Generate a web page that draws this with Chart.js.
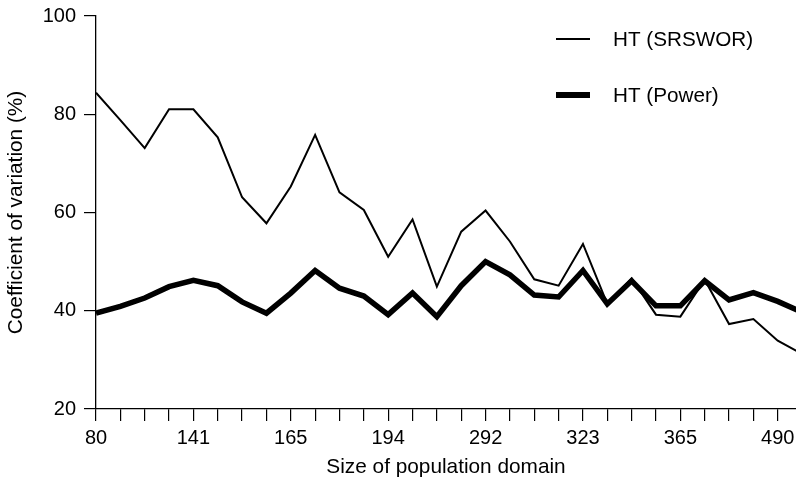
<!DOCTYPE html>
<html>
<head>
<meta charset="utf-8">
<script src="https://cdn.jsdelivr.net/npm/chart.js@4.4.0/dist/chart.umd.min.js"></script>
<style>
html,body{margin:0;padding:0;background:#fff;}
#wrap{width:796px;height:480px;position:relative;}
</style>
</head>
<body>
<div id="wrap"><canvas id="c" width="796" height="480"></canvas></div>
<script>
// ---- data ----
const xTickLabels = ['80','','','','141','','','','165','','','','194','','','','292','','','','323','','','','365','','','','490'];
const seriesNames = ['HT (SRSWOR)', 'HT (Power)'];
const srsworValues = [84.4, 78.8, 73.1, 81.0, 81.0, 75.3, 63.1, 57.8, 65.3, 75.8, 64.1, 60.5, 51.0, 58.6, 44.9,
                      56.1, 60.4, 54.1, 46.4, 45.1, 53.6, 41.4, 46.6, 39.2, 38.8, 46.3, 37.3, 38.3, 33.9, 31.2];
const powerValues  = [39.5, 40.9, 42.6, 44.9, 46.2, 45.1, 41.8, 39.5, 43.6, 48.2, 44.6, 43.0, 39.2, 43.6, 38.8,
                      45.1, 50.0, 47.3, 43.2, 42.8, 48.2, 41.4, 46.1, 41.0, 41.0, 46.1, 42.2, 43.7, 41.9, 39.7];
const yTickValues = [20, 40, 60, 80, 100];
const xTitle = 'Size of population domain';
const yTitle = 'Coefficient of variation (%)';

const FONT = '"Liberation Sans", Arial, Helvetica, sans-serif';
const toPoints = arr => arr.map((v, i) => ({x: i, y: v}));

const legendPlugin = {
  id: 'refLegend',
  afterDraw(chart) {
    const ctx = chart.ctx;
    chart.data.datasets.forEach((ds, i) => {
      const y = 39 + i * 56;
      ctx.save();
      ctx.strokeStyle = ds.borderColor;
      ctx.lineWidth = i === 0 ? 2 : 6;
      ctx.beginPath();
      ctx.moveTo(556, y);
      ctx.lineTo(590, y);
      ctx.stroke();
      ctx.fillStyle = '#000';
      ctx.font = '20.7px ' + FONT;
      ctx.textBaseline = 'middle';
      ctx.textAlign = 'left';
      ctx.fillText(ds.label, 613, y + 1);
      ctx.restore();
    });
  }
};

new Chart(document.getElementById('c'), {
  type: 'line',
  data: {
    datasets: [
      {label: seriesNames[0], data: toPoints(srsworValues), borderColor: '#000', borderWidth: 2,
       pointRadius: 0, tension: 0, fill: false},
      {label: seriesNames[1], data: toPoints(powerValues), borderColor: '#000', borderWidth: 5.5,
       pointRadius: 0, tension: 0, fill: false}
    ]
  },
  options: {
    responsive: false,
    devicePixelRatio: 1,
    animation: false,
    layout: {padding: {top: 16, right: 0, bottom: 0, left: 0}},
    plugins: {legend: {display: false}, tooltip: {enabled: false}},
    scales: {
      x: {
        type: 'linear',
        min: 0,
        max: 28.75,
        grid: {drawOnChartArea: false, drawTicks: true, tickLength: 12, color: '#000', lineWidth: 1.2},
        border: {display: true, color: '#000', width: 1.3},
        ticks: {
          stepSize: 1, includeBounds: false, autoSkip: false, maxRotation: 0, minRotation: 0,
          padding: 5, color: '#000', font: {family: FONT, size: 20},
          callback: v => (xTickLabels[v] !== undefined ? xTickLabels[v] : '')
        },
        title: {display: true, text: xTitle, color: '#000', font: {family: FONT, size: 20.8},
                padding: {top: 0, bottom: 0}},
        afterFit(scale) { scale.height = 71; scale.paddingLeft = 0; scale.paddingRight = 0; }
      },
      y: {
        min: 20,
        max: 100,
        afterBuildTicks(scale) { scale.ticks = yTickValues.map(v => ({value: v})); },
        grid: {drawOnChartArea: false, drawTicks: true, tickLength: 12, color: '#000', lineWidth: 1.2},
        border: {display: true, color: '#000', width: 1.3},
        ticks: {padding: 8, color: '#000', font: {family: FONT, size: 20}},
        title: {display: true, text: yTitle, color: '#000', font: {family: FONT, size: 20.8},
                padding: {top: 4, bottom: 0}},
        afterFit(scale) { scale.width = 96; scale.paddingTop = 0; scale.paddingBottom = 0; }
      }
    }
  },
  plugins: [legendPlugin]
});
</script>
</body>
</html>
